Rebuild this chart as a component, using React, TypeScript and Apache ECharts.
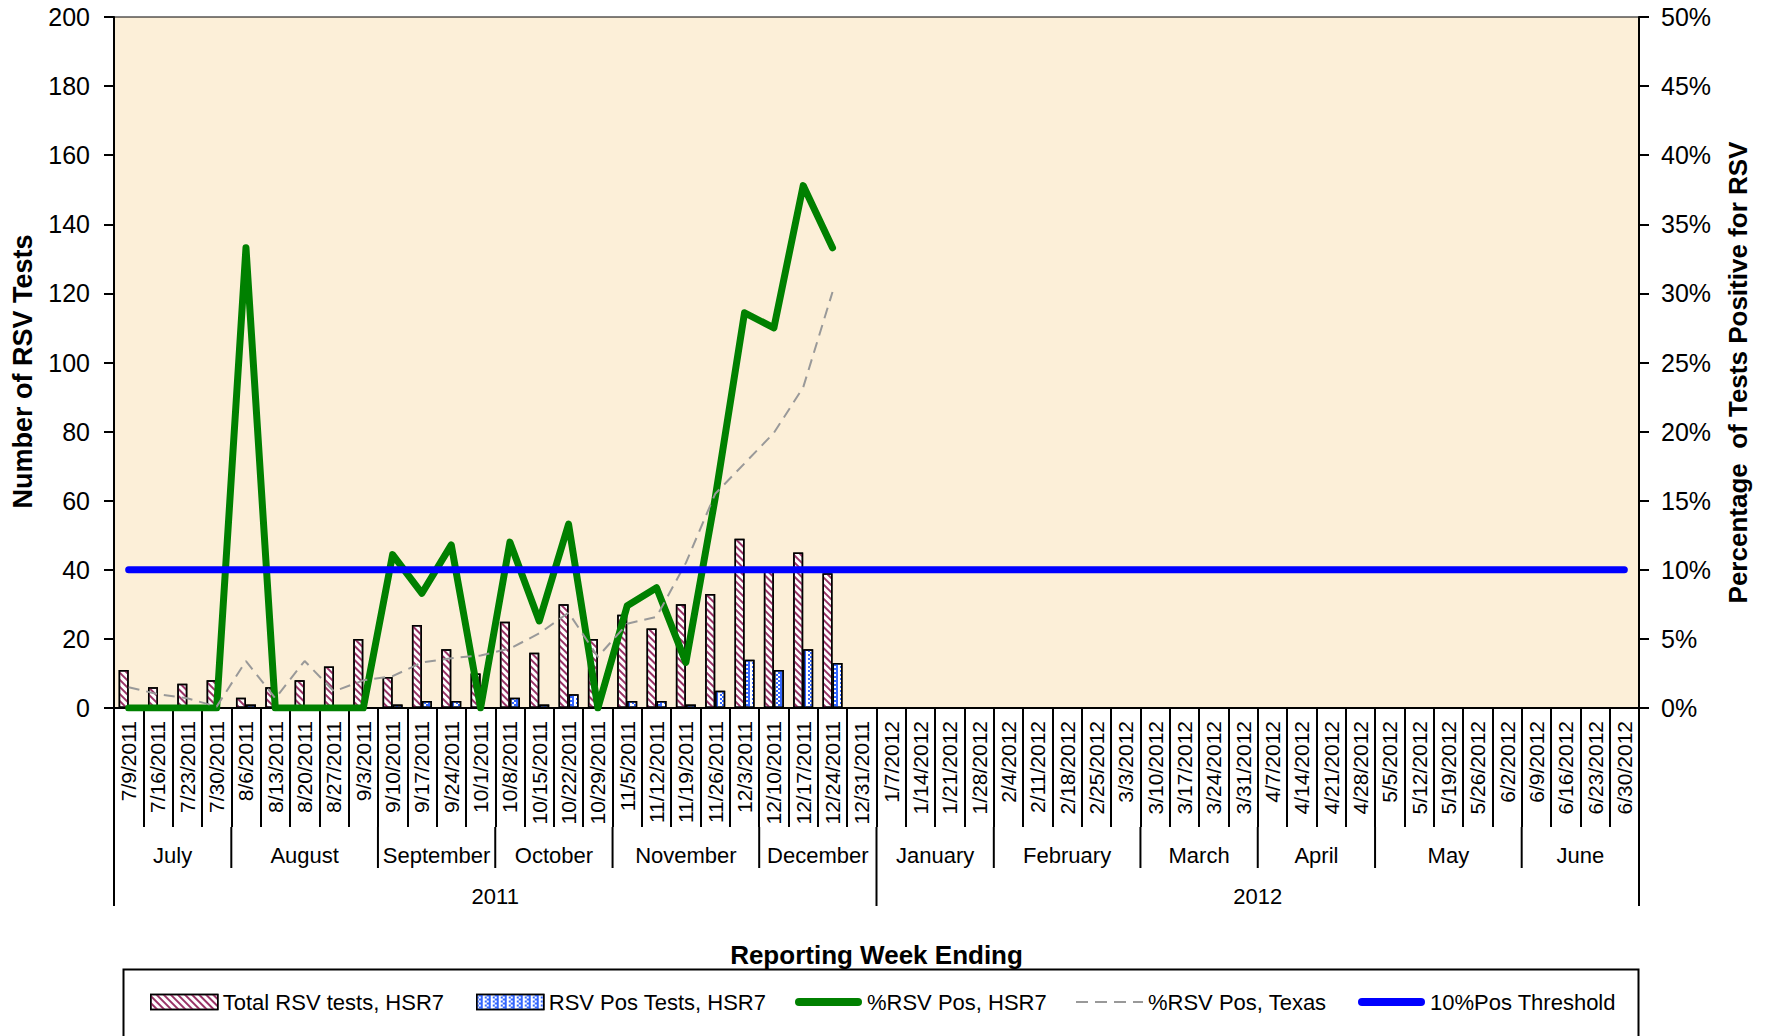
import React, { useEffect, useRef } from 'react';
import * as echarts from 'echarts';

const weeks = [
  '7/9/2011', '7/16/2011', '7/23/2011', '7/30/2011', '8/6/2011', '8/13/2011', '8/20/2011', '8/27/2011', '9/3/2011',
  '9/10/2011', '9/17/2011', '9/24/2011', '10/1/2011', '10/8/2011', '10/15/2011', '10/22/2011', '10/29/2011',
  '11/5/2011', '11/12/2011', '11/19/2011', '11/26/2011', '12/3/2011', '12/10/2011', '12/17/2011', '12/24/2011', '12/31/2011',
  '1/7/2012', '1/14/2012', '1/21/2012', '1/28/2012', '2/4/2012', '2/11/2012', '2/18/2012', '2/25/2012', '3/3/2012',
  '3/10/2012', '3/17/2012', '3/24/2012', '3/31/2012', '4/7/2012', '4/14/2012', '4/21/2012', '4/28/2012',
  '5/5/2012', '5/12/2012', '5/19/2012', '5/26/2012', '6/2/2012', '6/9/2012', '6/16/2012', '6/23/2012', '6/30/2012',
];

const totalTests = [11, 6, 7, 8, 3, 6, 8, 12, 20, 9, 24, 17, 10, 25, 16, 30, 20, 27, 23, 30, 33, 49, 40, 45, 39];
const posTests = [0, 0, 0, 0, 1, 0, 0, 0, 0, 1, 2, 2, 0, 3, 1, 4, 0, 2, 2, 1, 5, 14, 11, 17, 13];
const pctHSR7 = [0, 0, 0, 0, 33.3, 0, 0, 0, 0, 11.1, 8.3, 11.8, 0, 12.0, 6.3, 13.3, 0, 7.4, 8.7, 3.3, 15.2, 28.6, 27.5, 37.8, 33.3];
const pctTexas = [1.5, 1.0, 0.7, 0.1, 3.4, 0.7, 3.4, 1.2, 2.0, 2.3, 3.3, 3.6, 3.8, 4.3, 5.4, 6.9, 3.7, 6.1, 6.6, 10.5, 15.5, 17.7, 19.9, 23.2, 30.1];
const threshold = [
  10, 10, 10, 10, 10, 10, 10, 10, 10, 10, 10, 10, 10, 10, 10, 10, 10, 10, 10, 10, 10, 10, 10, 10, 10, 10,
  10, 10, 10, 10, 10, 10, 10, 10, 10, 10, 10, 10, 10, 10, 10, 10, 10, 10, 10, 10, 10, 10, 10, 10, 10, 10,
];

const monthNames = ['July', 'August', 'September', 'October', 'November', 'December',
  'January', 'February', 'March', 'April', 'May', 'June'];
const monthWeekCounts = [4, 5, 4, 4, 5, 4, 4, 5, 4, 4, 5, 4];
const yearNames = ['2011', '2012'];
const yearWeekCounts = [26, 26];

const seriesNames = ['Total RSV tests, HSR7', 'RSV Pos Tests, HSR7', '%RSV Pos, HSR7', '%RSV Pos, Texas', '10%Pos Threshold'];

const FONT = 'Liberation Sans, Arial, sans-serif';
const GREEN = '#008000';
const GRAY = '#999999';
const BLUE = '#0000ff';

const totalDecal = { symbol: 'rect', symbolSize: 1, color: '#993366', dashArrayX: [1, 0], dashArrayY: [2, 3], rotation: Math.PI / 4 };
const posDecal = { symbol: 'rect', symbolSize: 1, color: '#3366ff', dashArrayX: [[2, 2], [0, 2, 2]], dashArrayY: [2, 0], rotation: 0 };

const capsule = 'path://M4,0 L63,0 A4,4 0 0 1 63,8 L4,8 A4,4 0 0 1 4,0 Z';
const dashes = 'path://M0,0 h12 v2 h-12 Z M19,0 h12 v2 h-12 Z M38,0 h12 v2 h-12 Z M57,0 h10 v2 h-10 Z';

function buildGroups() {
  const out: number[][] = [];
  let s = 0;
  monthWeekCounts.forEach((c, i) => { out.push([s, 0, s + c - 1, 0, i]); s += c; });
  s = 0;
  yearWeekCounts.forEach((c, i) => { out.push([s, 0, s + c - 1, 1, i]); s += c; });
  return out;
}

function legendAt(left: number, item: any, itemHeight: number) {
  return {
    data: [item],
    left, top: 991, padding: 0,
    itemWidth: 67, itemHeight,
    textStyle: { fontFamily: FONT, fontSize: 22, color: '#000' },
  };
}

export default function App() {
  const ref = useRef<HTMLDivElement>(null);
  useEffect(() => {
    const chart = echarts.init(ref.current!, null, { renderer: 'svg' });
    const option: any = {
      animation: false,
      textStyle: { fontFamily: FONT, color: '#000' },
      grid: {
        left: 114, right: 128, top: 17, bottom: 328,
        show: true, backgroundColor: '#FCEFD8', borderColor: '#000', borderWidth: 1,
      },
      legend: [
        legendAt(150, { name: seriesNames[0], icon: 'rect', itemStyle: { color: '#ffffff', borderColor: '#000', borderWidth: 1.5, decal: totalDecal } }, 15),
        legendAt(476, { name: seriesNames[1], icon: 'rect', itemStyle: { color: '#ffffff', borderColor: '#000', borderWidth: 1.5, decal: posDecal } }, 15),
        legendAt(795, { name: seriesNames[2], icon: capsule, itemStyle: { color: GREEN, borderWidth: 0 } }, 8),
        legendAt(1076, { name: seriesNames[3], icon: dashes, itemStyle: { color: GRAY, borderWidth: 0 } }, 2),
        legendAt(1358, { name: seriesNames[4], icon: capsule, itemStyle: { color: BLUE, borderWidth: 0 } }, 8),
      ],
      graphic: [
        { type: 'rect', left: 121, top: 967, shape: { width: 1515, height: 90 }, style: { fill: 'none', stroke: '#000', lineWidth: 2 }, silent: true },
      ],
      xAxis: {
        type: 'category',
        data: weeks,
        boundaryGap: true,
        name: 'Reporting Week Ending',
        nameLocation: 'middle',
        nameGap: 247,
        nameTextStyle: { fontFamily: FONT, fontSize: 26, fontWeight: 'bold', color: '#000', verticalAlign: 'middle' },
        axisLine: { lineStyle: { color: '#000', width: 2 } },
        axisTick: { show: true, interval: 0, length: 119, lineStyle: { color: '#000', width: 2 } },
        axisLabel: { interval: 0, rotate: 90, fontSize: 21, margin: 13, color: '#000', fontFamily: FONT },
        splitLine: { show: false },
      },
      yAxis: [
        {
          type: 'value', min: 0, max: 200, interval: 20, position: 'left',
          name: 'Number of RSV Tests', nameLocation: 'middle', nameGap: 78, nameRotate: 90,
          nameTextStyle: { fontFamily: FONT, fontSize: 27, fontWeight: 'bold', color: '#000', padding: [0, 18, 0, 0] },
          axisLine: { show: true, lineStyle: { color: '#000', width: 2 } },
          axisTick: { show: true, length: 10, lineStyle: { color: '#000', width: 2 } },
          axisLabel: { fontSize: 25, margin: 24, color: '#000', fontFamily: FONT },
          splitLine: { show: false },
        },
        {
          type: 'value', min: 0, max: 50, interval: 5, position: 'right',
          name: 'Percentage  of Tests Positive for RSV', nameLocation: 'middle', nameGap: 86, nameRotate: 90,
          nameTextStyle: { fontFamily: FONT, fontSize: 26, fontWeight: 'bold', color: '#000', padding: [0, 20, 0, 0] },
          axisLine: { show: true, lineStyle: { color: '#000', width: 2 } },
          axisTick: { show: true, length: 10, lineStyle: { color: '#000', width: 2 } },
          axisLabel: { fontSize: 25, margin: 22, color: '#000', fontFamily: FONT, formatter: '{value}%' },
          splitLine: { show: false },
        },
      ],
      series: [
        {
          name: seriesNames[0], type: 'bar', yAxisIndex: 0, data: totalTests,
          barWidth: 10, barGap: '0%',
          itemStyle: { color: '#ffffff', borderColor: '#000', borderWidth: 1.5, decal: totalDecal },
        },
        {
          name: seriesNames[1], type: 'bar', yAxisIndex: 0, data: posTests,
          barWidth: 10, barGap: '0%',
          itemStyle: { color: '#ffffff', borderColor: '#000', borderWidth: 1.5, decal: posDecal },
        },
        {
          name: seriesNames[2], type: 'line', yAxisIndex: 1, data: pctHSR7,
          symbol: 'none', lineStyle: { color: GREEN, width: 7, cap: 'round', join: 'round' },
          itemStyle: { color: GREEN },
        },
        {
          name: seriesNames[3], type: 'line', yAxisIndex: 1, data: pctTexas,
          symbol: 'none', lineStyle: { color: GRAY, width: 2, type: [11, 7] },
          itemStyle: { color: GRAY },
        },
        {
          name: seriesNames[4], type: 'line', yAxisIndex: 1, data: threshold,
          symbol: 'none', lineStyle: { color: BLUE, width: 7, cap: 'round' },
          itemStyle: { color: BLUE },
        },
        {
          type: 'custom', yAxisIndex: 0, silent: true, clip: false,
          data: buildGroups(),
          encode: { x: 0, y: 1 },
          renderItem: (params: any, api: any) => {
            const start = api.value(0);
            const end = api.value(2);
            const level = api.value(3);
            const idx = api.value(4);
            const c0 = api.coord([0, 0]);
            const c1 = api.coord([1, 0]);
            const bw = c1[0] - c0[0];
            const p0 = api.coord([start, 0]);
            const p1 = api.coord([end, 0]);
            const x0 = p0[0] - bw / 2;
            const x1 = p1[0] + bw / 2;
            const yA = p0[1];
            const top = yA + (level === 0 ? 119 : 160);
            const bottom = yA + (level === 0 ? 160 : 198);
            const label = level === 0 ? monthNames[idx] : yearNames[idx];
            const children: any[] = [
              { type: 'line', shape: { x1: x1, y1: top, x2: x1, y2: bottom }, style: { stroke: '#000', lineWidth: 2 } },
              {
                type: 'text', x: (x0 + x1) / 2, y: top + 28,
                style: { text: label, align: 'center', verticalAlign: 'middle', fontSize: 22, fontFamily: FONT, fill: '#000' },
              },
            ];
            if (start === 0) {
              children.push({ type: 'line', shape: { x1: x0, y1: top, x2: x0, y2: bottom }, style: { stroke: '#000', lineWidth: 2 } });
            }
            return { type: 'group', children };
          },
        },
      ],
    };
    chart.setOption(option);
    return () => chart.dispose();
  }, []);
  return <div ref={ref} style={{ position: 'fixed', left: 0, top: 0, width: '1767px', height: '1036px', background: '#fff' }} />;
}
